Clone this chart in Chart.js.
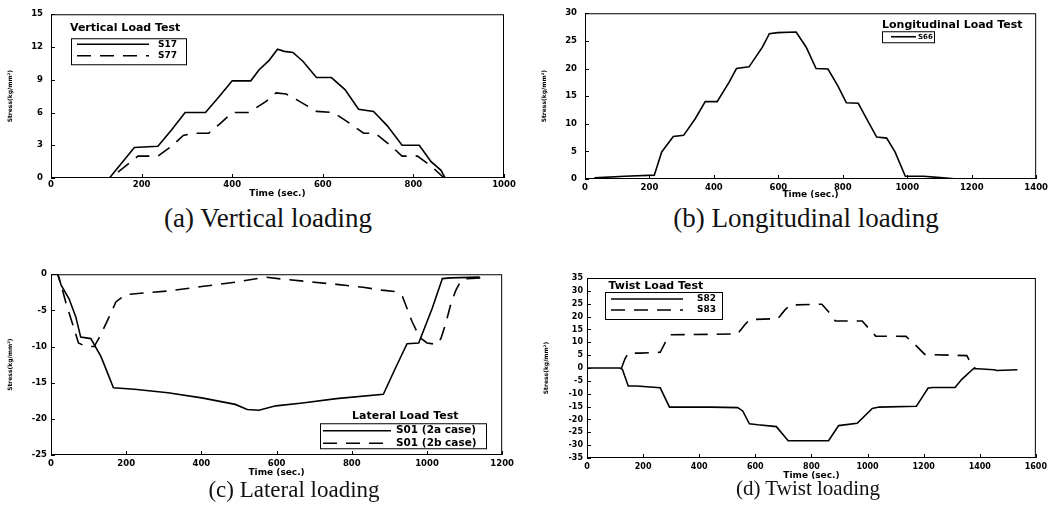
<!DOCTYPE html>
<html>
<head>
<meta charset="utf-8">
<script src="https://cdn.jsdelivr.net/npm/chart.js@4.4.0/dist/chart.umd.min.js"></script>
<style>
  body { margin: 0; background: #fff; width: 1054px; height: 514px; position: relative; overflow: hidden; }
  canvas { position: absolute; }
  .cap { position: absolute; width: 400px; text-align: center; font-family: "Liberation Serif", "Times New Roman", serif; line-height: 1; color: #111; white-space: nowrap; }
</style>
</head>
<body>
<canvas id="chartA"></canvas>
<canvas id="chartB"></canvas>
<canvas id="chartC"></canvas>
<canvas id="chartD"></canvas>
<div class="cap" style="left:68px; top:205px; font-size:27px;">(a) Vertical loading</div>
<div class="cap" style="left:606px; top:205px; font-size:27px;">(b) Longitudinal loading</div>
<div class="cap" style="left:94px; top:478px; font-size:23px;">(c) Lateral loading</div>
<div class="cap" style="left:608px; top:478px; font-size:21px;">(d) Twist loading</div>
<script>
// ---- data ----

// (a) vertical load test
const vertTicksX = [0, 200, 400, 600, 800, 1000];
const vertTicksY = [0, 3, 6, 9, 12, 15];
const vertTimeS17 = [0, 129, 184, 236, 266, 296, 341, 370, 400, 441, 459, 482, 500, 515, 534, 556, 586, 619, 649, 679, 712, 742, 775, 813, 839, 861, 870, 940];
const vertS17     = [0, 0, 2.8, 2.9, 4.4, 6.0, 6.0, 7.4, 8.9, 8.9, 9.9, 10.8, 11.8, 11.6, 11.5, 10.7, 9.2, 9.2, 8.1, 6.3, 6.1, 4.8, 3.0, 3.0, 1.5, 0.7, 0, 0];
const vertTimeS77 = [0, 132, 192, 236, 266, 292, 314, 348, 374, 400, 437, 474, 497, 519, 541, 586, 623, 660, 690, 716, 749, 775, 809, 839, 868, 940];
const vertS77     = [0, 0, 2.0, 2.0, 2.9, 3.9, 4.1, 4.1, 5.0, 6.0, 6.0, 7.0, 7.8, 7.7, 7.2, 6.1, 6.0, 5.0, 4.1, 4.1, 3.0, 2.0, 2.0, 1.1, 0, 0];

// (b) longitudinal load test
const longTicksX = [0, 200, 400, 600, 800, 1000, 1200, 1400];
const longTicksY = [0, 5, 10, 15, 20, 25, 30];
const longTimeS66 = [29, 123, 215, 238, 274, 306, 342, 373, 410, 446, 470, 509, 551, 572, 598, 655, 686, 717, 754, 785, 811, 848, 874, 905, 936, 962, 994, 1051, 1093, 1155];
const longS66     = [0.2, 0.5, 0.7, 4.9, 7.7, 7.9, 10.9, 14.0, 14.0, 17.4, 20.0, 20.3, 23.9, 26.3, 26.5, 26.6, 23.9, 20.0, 19.9, 16.8, 13.8, 13.7, 10.9, 7.6, 7.4, 4.9, 0.5, 0.5, 0.3, 0];

// (c) lateral load test
const latTicksX = [0, 200, 400, 600, 800, 1000, 1200];
const latTicksY = [-25, -20, -15, -10, -5, 0];
const latTime2a = [0, 18, 27, 48, 66, 79, 106, 133, 150, 166, 222, 311, 401, 490, 522, 553, 598, 669, 759, 884, 915, 947, 978, 1014, 1041, 1063, 1140];
const lat2a     = [0, 0, -1.5, -3.4, -5.9, -8.7, -8.9, -11.4, -13.6, -15.7, -15.9, -16.4, -17.1, -18.0, -18.7, -18.8, -18.2, -17.8, -17.2, -16.6, -13.1, -9.6, -9.5, -4.7, -0.6, -0.5, -0.4];
const latTime2b = [0, 18, 27, 40, 57, 73, 93, 115, 132, 151, 173, 199, 315, 401, 490, 571, 620, 700, 760, 830, 880, 917, 935, 960, 980, 1000, 1025, 1037, 1050, 1064, 1077, 1090, 1104, 1144];
const lat2b     = [0, 0, -1.5, -4.0, -6.8, -9.5, -10.0, -10.0, -8.4, -6.3, -3.8, -2.8, -2.3, -1.7, -1.1, -0.4, -0.7, -1.1, -1.4, -1.8, -2.2, -2.4, -3.1, -6.5, -8.7, -9.5, -9.7, -8.9, -6.8, -4.0, -2.2, -0.9, -0.6, -0.5];

// (d) twist load test
const twistTicksX = [0, 200, 400, 600, 800, 1000, 1200, 1400, 1600];
const twistTicksY = [-35, -30, -25, -20, -15, -10, -5, 0, 5, 10, 15, 20, 25, 30, 35];
const twistTimeS82 = [0, 117, 126, 147, 177, 261, 294, 441, 537, 555, 579, 609, 675, 717, 861, 897, 963, 1017, 1041, 1174, 1216, 1234, 1312, 1336, 1378, 1450, 1462, 1534];
const twistS82     = [0, 0, -0.5, -7.0, -7.0, -7.7, -15.2, -15.2, -15.4, -16.7, -21.7, -22.1, -22.8, -28.3, -28.3, -22.4, -21.5, -15.7, -15.2, -14.9, -7.8, -7.6, -7.6, -4.4, -0.2, -0.7, -1.0, -0.7];
const twistTimeS83 = [123, 135, 147, 189, 261, 279, 297, 453, 537, 561, 579, 681, 705, 723, 837, 861, 885, 981, 1005, 1029, 1137, 1173, 1204, 1318, 1354, 1366, 1384];
const twistS83     = [0, 3.5, 5.8, 5.8, 6.1, 10.0, 12.9, 13.1, 13.3, 16.6, 18.8, 19.2, 22.5, 24.5, 24.8, 21.9, 18.3, 18.3, 15.3, 12.4, 12.3, 8.7, 5.3, 4.9, 4.8, 2.2, -0.2];

// ---- drawing ----
Chart.defaults.color = '#000';
Chart.defaults.font.family = '"DejaVu Sans", sans-serif';

const Y_W = 50, PAD_TOP = 8, PAD_RIGHT = 16;
const SOLID = [];
const DASHED = [14, 9];

function pts(times, vals) {
  return times.map((t, i) => ({ x: t, y: vals[i] }));
}

function series(label, times, vals, dash) {
  return {
    label: label,
    data: pts(times, vals),
    borderColor: '#000',
    borderWidth: 1.6,
    borderDash: dash,
    pointRadius: 0,
    tension: 0,
    fill: false
  };
}

// box round the plot and inward tick marks
const frameTicks = {
  id: 'frameTicks',
  afterDraw(chart) {
    const { ctx, chartArea: a, scales } = chart;
    ctx.save();
    ctx.strokeStyle = '#000';
    ctx.lineWidth = 1;
    ctx.strokeRect(a.left + 0.5, a.top + 0.5, a.right - a.left - 1, a.bottom - a.top - 1);
    ctx.beginPath();
    scales.x.ticks.forEach(t => {
      const px = Math.round(scales.x.getPixelForValue(t.value)) + 0.5;
      ctx.moveTo(px, a.bottom);
      ctx.lineTo(px, a.bottom - 4);
    });
    scales.y.ticks.forEach(t => {
      const py = Math.round(scales.y.getPixelForValue(t.value)) + 0.5;
      ctx.moveTo(a.left, py);
      ctx.lineTo(a.left + 4, py);
    });
    ctx.stroke();
    ctx.restore();
  }
};

// legend box drawn inside the plot like the original
const boxLegend = {
  id: 'boxLegend',
  afterDatasetsDraw(chart, args, o) {
    if (!o || !o.title) return;
    const { ctx, chartArea: a } = chart;
    ctx.save();
    ctx.fillStyle = '#000';
    ctx.strokeStyle = '#000';
    ctx.textBaseline = 'middle';
    ctx.font = o.titleFont;
    ctx.fillText(o.title, a.left + o.titleAt[0], a.top + o.titleAt[1]);
    ctx.lineWidth = 1;
    ctx.strokeRect(a.left + o.box[0] + 0.5, a.top + o.box[1] + 0.5, o.box[2], o.box[3]);
    chart.data.datasets.forEach((ds, i) => {
      const y = a.top + o.rows[i];
      ctx.beginPath();
      ctx.lineWidth = ds.borderWidth;
      ctx.setLineDash(ds.borderDash || []);
      ctx.moveTo(a.left + o.line[0], y);
      ctx.lineTo(a.left + o.line[1], y);
      ctx.stroke();
      ctx.setLineDash([]);
      ctx.font = o.labelFont;
      ctx.fillText(ds.label, a.left + o.labelX, y);
    });
    ctx.restore();
  }
};

function makePanel(id, area, ticksX, ticksY, datasets, legend, look) {
  const cv = document.getElementById(id);
  const w = (area.r - area.l) + Y_W + PAD_RIGHT;
  const h = PAD_TOP + (area.b - area.t) + look.xh;
  cv.width = w;
  cv.height = h;
  cv.style.left = (area.l - Y_W) + 'px';
  cv.style.top = (area.t - PAD_TOP) + 'px';
  cv.style.width = w + 'px';
  cv.style.height = h + 'px';
  const tickFont = { family: '"DejaVu Sans", sans-serif', weight: 'bold', size: look.tickSize, lineHeight: 1 };
  const plain = v => String(v);
  return new Chart(cv, {
    type: 'line',
    data: { datasets: datasets },
    options: {
      responsive: false,
      maintainAspectRatio: false,
      animation: false,
      events: [],
      layout: { autoPadding: false, padding: { left: 0, top: PAD_TOP, right: PAD_RIGHT, bottom: 0 } },
      plugins: {
        legend: { display: false },
        tooltip: { enabled: false },
        boxLegend: legend
      },
      scales: {
        x: {
          type: 'linear',
          min: ticksX[0],
          max: ticksX[ticksX.length - 1],
          ticks: { stepSize: ticksX[1] - ticksX[0], padding: look.xPad, font: tickFont, maxRotation: 0, autoSkip: false, callback: plain },
          grid: { display: false, drawTicks: false },
          border: { display: false },
          title: { display: true, text: 'Time (sec.)', font: { weight: 'bold', size: 9 }, padding: { top: 0, bottom: 0 } },
          afterFit(scale) { scale.height = look.xh; }
        },
        y: {
          type: 'linear',
          min: ticksY[0],
          max: ticksY[ticksY.length - 1],
          ticks: { stepSize: ticksY[1] - ticksY[0], padding: look.yPad, font: tickFont, autoSkip: false, callback: plain },
          grid: { display: false, drawTicks: false },
          border: { display: false },
          title: { display: true, text: 'Stress(kg/mm²)', font: { weight: 'bold', size: 6 }, padding: { top: 6, bottom: 0 } },
          afterFit(scale) { scale.width = Y_W; }
        }
      }
    },
    plugins: [frameTicks, boxLegend]
  });
}

makePanel('chartA', { l: 51, t: 10, r: 504, b: 178 }, vertTicksX, vertTicksY, [
  series('S17', vertTimeS17, vertS17, SOLID),
  series('S77', vertTimeS77, vertS77, DASHED)
], {
  title: 'Vertical Load Test', titleAt: [19, 13.5], titleFont: 'bold 11px "DejaVu Sans"',
  box: [20, 24, 115, 26], rows: [30, 41.5], line: [26, 98], labelX: 107, labelFont: 'bold 9px "DejaVu Sans"'
}, { xh: 21, xPad: 2.5, yPad: 8, tickSize: 8.5 });

makePanel('chartB', { l: 585, t: 9, r: 1037, b: 179 }, longTicksX, longTicksY, [
  series('S66', longTimeS66, longS66, SOLID)
], {
  title: 'Longitudinal Load Test', titleAt: [297, 11.5], titleFont: 'bold 11px "DejaVu Sans"',
  box: [297, 18, 52, 11], rows: [23.5], line: [306, 331], labelX: 333, labelFont: 'bold 7px "DejaVu Sans"'
}, { xh: 21, xPad: 5, yPad: 8, tickSize: 8.5 });

makePanel('chartC', { l: 51, t: 274, r: 503, b: 455 }, latTicksX, latTicksY, [
  series('S01 (2a case)', latTime2a, lat2a, SOLID),
  series('S01 (2b case)', latTime2b, lat2b, DASHED)
], {
  title: 'Lateral Load Test', titleAt: [301, 141.5], titleFont: 'bold 11px "DejaVu Sans"',
  box: [269, 149, 166, 25], rows: [156.5, 169], line: [272, 340], labelX: 345, labelFont: 'bold 10.5px "DejaVu Sans"'
}, { xh: 23, xPad: 5, yPad: 4, tickSize: 8.5 });

makePanel('chartD', { l: 587, t: 278, r: 1036, b: 458 }, twistTicksX, twistTicksY, [
  series('S82', twistTimeS82, twistS82, SOLID),
  series('S83', twistTimeS83, twistS83, DASHED)
], {
  title: 'Twist Load Test', titleAt: [21.5, 8.5], titleFont: 'bold 11px "DejaVu Sans"',
  box: [18, 14, 117, 27], rows: [21, 32], line: [24, 96], labelX: 110, labelFont: 'bold 9px "DejaVu Sans"'
}, { xh: 23, xPad: 5, yPad: 4, tickSize: 8 });
</script>
</body>
</html>
